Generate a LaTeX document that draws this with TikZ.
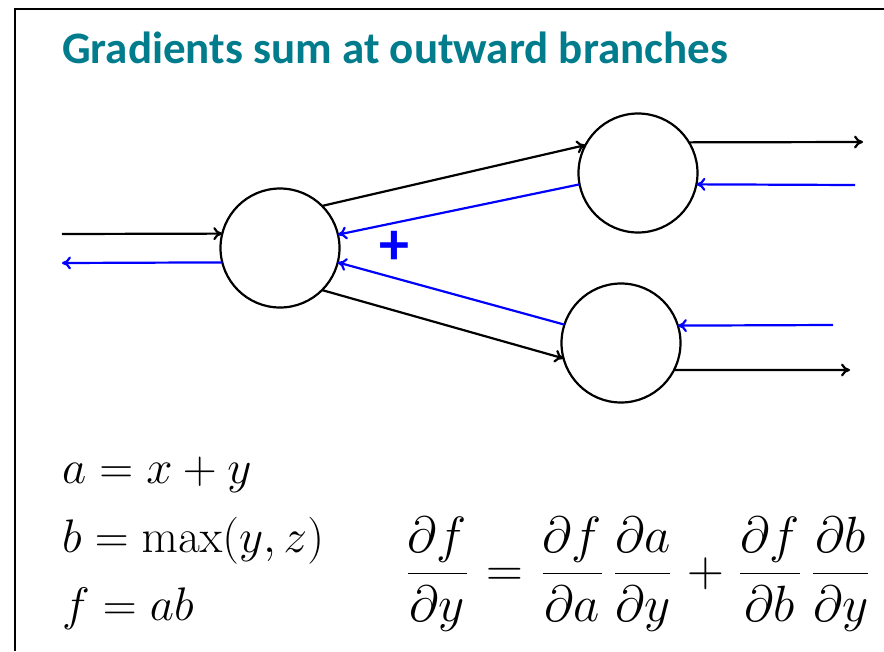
\documentclass[tikz,border=0pt]{standalone}
\usepackage[no-math]{fontspec}
\newfontfamily\titlefont{Carlito}
\usetikzlibrary{arrows.meta}
\definecolor{titleteal}{RGB}{0,124,140}
\definecolor{gradblue}{RGB}{0,0,255}
\newcommand{\bigmath}[1]{\scalebox{1.89}{\Huge #1}}
\newcommand{\eqmath}[1]{\scalebox{2.05}{\Huge #1}}
\tikzset{
  neuron/.style={circle,draw,line width=2.2pt,minimum size=119pt,inner sep=0pt,outer sep=0pt},
  fwd/.style={line width=2.2pt,-{To[length=9pt,width=13pt]}},
  bwd/.style={line width=2.2pt,draw=gradblue,-{To[length=9pt,width=13pt]}},
  frame/.style={line width=2pt},
  mathtxt/.style={inner sep=0pt},
}
\begin{document}
\begin{tikzpicture}[x=1pt,y=-1pt]
\useasboundingbox (0,0) rectangle (884,651);
% frame
\coordinate (fTR) at (884,9);
\coordinate (fTL) at (15,9);
\coordinate (fBL) at (15,651);
\draw[frame] (fTR) -- (fTL) -- (fBL);
% title
\node[anchor=base west,inner sep=0pt,text=titleteal,font=\titlefont\bfseries\fontsize{45}{50}\selectfont] (title) at (62,63) {Gradients sum at outward branches};
% neurons
\node[neuron] (A) at (280,248) {};
\node[neuron] (B) at (638,173) {};
\node[neuron] (C) at (621,343) {};
% free ends
\coordinate (inF) at (62,234);
\coordinate (inB) at (62,263);
\coordinate (oBf) at (863,142);
\coordinate (oBb) at (855,185);
\coordinate (oCb) at (833,325);
\coordinate (oCf) at (850,370);
% forward
\draw[fwd] (inF) -- (A.166);
\draw[fwd] (A.45) -- (B.152);
\draw[fwd] (A.-45) -- (C.195);
\draw[fwd] (B.31) -- (oBf);
\draw[fwd] (C.-27) -- (oCf);
% backward
\draw[bwd] (A.194) -- (inB);
\draw[bwd] (B.191) -- (A.13);
\draw[bwd] (C.162) -- (A.-14);
\draw[bwd] (oBb) -- (B.-11);
\draw[bwd] (oCb) -- (C.17);
% plus
\node[inner sep=0pt,text=gradblue,font=\titlefont\bfseries\fontsize{60}{64}\selectfont] (plus) at (394,248) {+};
% equations
\node[mathtxt,anchor=base west] (eq1) at (62,483) {\bigmath{$a = x + y$}};
\node[mathtxt,anchor=base west] (eq2) at (62,552) {\bigmath{$b = \max(y, z)$}};
\node[mathtxt,anchor=base west] (eq3) at (62,620) {\bigmath{$f = ab$}};
\node[mathtxt,anchor=west] (eq4) at (405,574) {\eqmath{$\displaystyle \frac{\partial f}{\partial y} \mkern1mu=\mkern1mu \frac{\partial f}{\partial a}\,\frac{\partial a}{\partial y} \mkern1mu+\mkern1mu \frac{\partial f}{\partial b}\,\frac{\partial b}{\partial y}$}};
\end{tikzpicture}
\end{document}
